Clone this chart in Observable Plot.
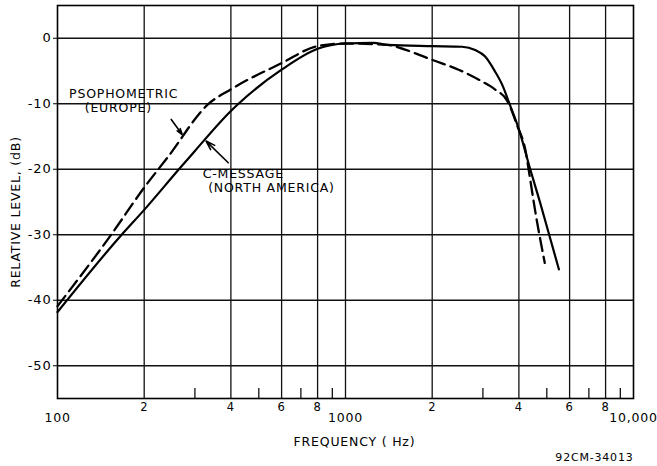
<!DOCTYPE html>
<html><head><meta charset="utf-8">
<script src="https://cdn.jsdelivr.net/npm/d3@7"></script>
<script src="https://cdn.jsdelivr.net/npm/@observablehq/plot@0.6"></script>
<style>
html,body{margin:0;padding:0;background:#fff;}
#chart svg{display:block;}
</style></head><body><div id="chart"></div>
<script>
// C-message (North America), solid
const cMessageFreq = [100, 167, 200, 264, 300, 400, 425, 600, 800, 1000, 1250, 1400, 2000, 2540, 2820, 3054, 3298, 3517, 3703, 4000, 4380, 4740, 5110, 5510];
const cMessageDb   = [-41.8, -30, -26.2, -20, -17.2, -11.1, -10, -4.8, -1.6, -0.8, -0.7, -1.0, -1.2, -1.3, -1.8, -2.8, -5.0, -7.3, -9.9, -13.9, -20, -25.1, -30.2, -35.3];
// Psophometric (Europe), dashed
const psophFreq = [100, 153, 200, 243, 333, 400, 600, 800, 1000, 1400, 1600, 2000, 2470, 2980, 3300, 3650, 3950, 4210, 4380, 4550, 4920];
const psophDb   = [-40.9, -30.1, -22.8, -18, -10.1, -7.8, -3.8, -1.2, -0.8, -1.0, -1.7, -3.3, -4.8, -6.6, -7.8, -9.6, -13.4, -17.0, -21.6, -26.2, -34.3];

const yTicks = [0, -10, -20, -30, -40, -50];
const yTickLabels = ["0", "-10", "-20", "-30", "-40", "-50"];
const majorX = [100, 1000, 10000];
const majorXLabels = ["100", "1000", "10,000"];
const minorX = [200, 400, 600, 800, 2000, 4000, 6000, 8000];
const minorXLabels = ["2", "4", "6", "8", "2", "4", "6", "8"];
const shortX = [300, 500, 700, 900, 3000, 5000, 7000, 9000];
const gridXVals = [200, 400, 600, 800, 1000, 2000, 4000, 6000, 8000];

const noteTexts = ["PSOPHOMETRIC", "(EUROPE)", "C-MESSAGE", "(NORTH AMERICA)"];
const noteFreq = [109.7, 124.3, 319.4, 333.5];
const noteDb = [-8.5, -10.6, -20.8, -22.9];
const arrowFromFreq = [248.3, 391.7];
const arrowFromDb = [-12.4, -19.0];
const arrowToFreq = [271, 328];
const arrowToDb = [-14.7, -15.7];

const xTitle = "FREQUENCY ( Hz)";
const yTitle = "RELATIVE LEVEL, (dB)";
const caption = "92CM-34013";

const cData = cMessageFreq.map((f, i) => ({f, db: cMessageDb[i]}));
const pData = psophFreq.map((f, i) => ({f, db: psophDb[i]}));
const notes = noteTexts.map((t, i) => ({t, f: noteFreq[i], db: noteDb[i]}));
const arrows = arrowFromFreq.map((f, i) => ({f1: f, db1: arrowFromDb[i], f2: arrowToFreq[i], db2: arrowToDb[i]}));
const yFmt = new Map(yTicks.map((v, i) => [v, yTickLabels[i]]));
const majLab = majorX.map((v, i) => ({v, t: majorXLabels[i]}));
const minLab = minorX.map((v, i) => ({v, t: minorXLabels[i]}));

const W = 657, H = 466, mT = 5, mB = 68, mL = 57, mR = 24;
const tickLen = 10;

const chart = Plot.plot({
  width: W, height: H,
  marginTop: mT, marginBottom: mB, marginLeft: mL, marginRight: mR,
  style: {fontFamily: "'DejaVu Sans', sans-serif", letterSpacing: "0.8px", background: "#fff", color: "#000"},
  x: {type: "log", domain: [100, 10000], axis: null},
  y: {domain: [-55, 5]},
  marks: [
    Plot.gridX(gridXVals, {stroke: "#111", strokeOpacity: 1, strokeWidth: 1.3}),
    Plot.gridY(yTicks, {stroke: "#111", strokeOpacity: 1, strokeWidth: 1.3}),
    Plot.tickX(shortX, {x: d => d, stroke: "#111", strokeWidth: 1.3, insetTop: (H - mT - mB) - tickLen}),
    Plot.frame({stroke: "#000", strokeWidth: 1.6}),
    Plot.axisY(yTicks, {tickSize: 4, tickPadding: 2, tickFormat: d => yFmt.get(d), fontSize: 13, label: null}),
    Plot.text(majLab, {x: "v", text: "t", frameAnchor: "bottom", lineAnchor: "middle", textAnchor: "middle", dy: 19, fontSize: 12.5, fill: "#000"}),
    Plot.text(minLab, {x: "v", text: "t", frameAnchor: "bottom", lineAnchor: "middle", textAnchor: "middle", dy: 9, fontSize: 11.5, fill: "#000"}),
    Plot.line(pData, {x: "f", y: "db", stroke: "#000", strokeWidth: 2.3, strokeDasharray: "13,6", curve: "monotone-x"}),
    Plot.line(cData, {x: "f", y: "db", stroke: "#000", strokeWidth: 2.2, curve: "monotone-x"}),
    Plot.text(notes, {x: "f", y: "db", text: "t", textAnchor: "start", fontSize: 12.5, fill: "#000"}),
    Plot.arrow(arrows, {x1: "f1", y1: "db1", x2: "f2", y2: "db2", stroke: "#000", strokeWidth: 1.6, headLength: 9, headAngle: 35}),
    Plot.text([yTitle], {frameAnchor: "left", textAnchor: "middle", lineAnchor: "middle", rotate: -90, dx: -42, dy: 10, fontSize: 12.5, fill: "#000"}),
    Plot.text([xTitle], {frameAnchor: "bottom", textAnchor: "middle", lineAnchor: "middle", dx: 9, dy: 43, fontSize: 12.5, fill: "#000"}),
    Plot.text([caption], {frameAnchor: "bottom-right", textAnchor: "end", lineAnchor: "middle", dy: 59, fontSize: 11, fill: "#000"})
  ]
});
document.getElementById("chart").appendChild(chart);
</script>
</body></html>
